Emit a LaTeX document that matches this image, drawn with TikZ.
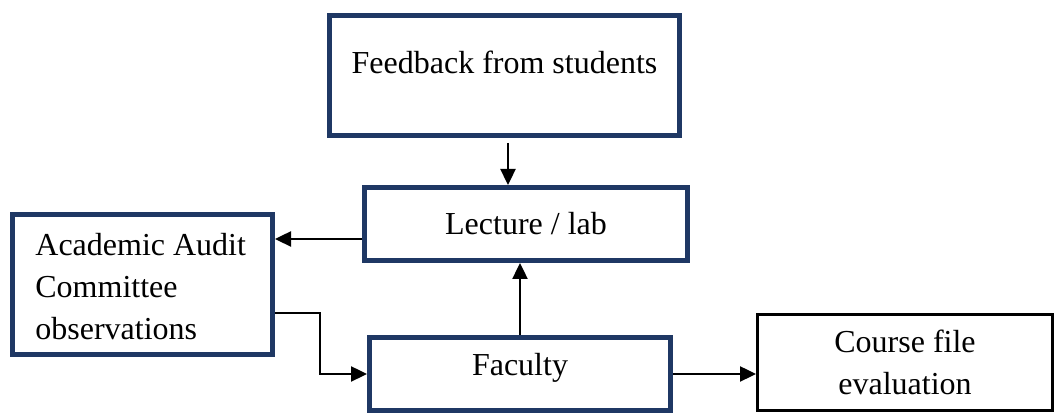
\documentclass[tikz,border=0pt]{standalone}
\usepackage{fontspec}
\setmainfont{Liberation Serif}
\usetikzlibrary{arrows.meta}
\definecolor{navy}{HTML}{1F3864}
\begin{document}
\begin{tikzpicture}[x=0.5pt,y=-0.5pt,
  bluebox/.style={draw=navy,line width=2.5pt,fill=white,inner sep=0pt},
  plainbox/.style={draw=black,line width=1.5pt,fill=white,inner sep=0pt},
  txt/.style={font=\fontsize{16}{21}\selectfont,inner sep=0pt},
  arr/.style={draw=black,line width=1.2pt,-{Triangle[length=8pt,width=7.5pt]}}]
\useasboundingbox (0,0) rectangle (1055,415);

% boxes
\node[bluebox,minimum width=175pt,minimum height=60pt] (fb) at (504.5,75.5) {};
\node[txt] (fbt) at (504.5,62) {Feedback from students};

\node[bluebox,minimum width=161.5pt,minimum height=36.5pt,txt] (lec) at (526,224) {Lecture / lab};

\node[bluebox,minimum width=130pt,minimum height=70pt] (acad) at (142.5,284.5) {};
\node[txt,align=left,anchor=west] (acadt) at (35,287) {Academic Audit\\Committee\\observations};

\node[bluebox,minimum width=150.5pt,minimum height=36.5pt] (fac) at (520,374) {};
\node[txt] (fact) at (520,368) {Faculty};

\node[plainbox,minimum width=147.5pt,minimum height=48pt,txt,align=center] (crs) at (905,362.5) {Course file\\evaluation};

% connectors
\coordinate (fbout) at (508,143);
\draw[arr] (fbout) -- (fbout |- lec.north);
\draw[arr] (lec.west |- 0,239) -- (acad.east |- 0,239);
\coordinate (bend) at (320,313);
\draw[arr] (acad.east |- bend) -- (bend) |- (fac.west);
\draw[arr] (fac.north) -- (fac.north |- lec.south);
\draw[arr] (fac.east) -- (fac.east -| crs.west);
\end{tikzpicture}
\end{document}
